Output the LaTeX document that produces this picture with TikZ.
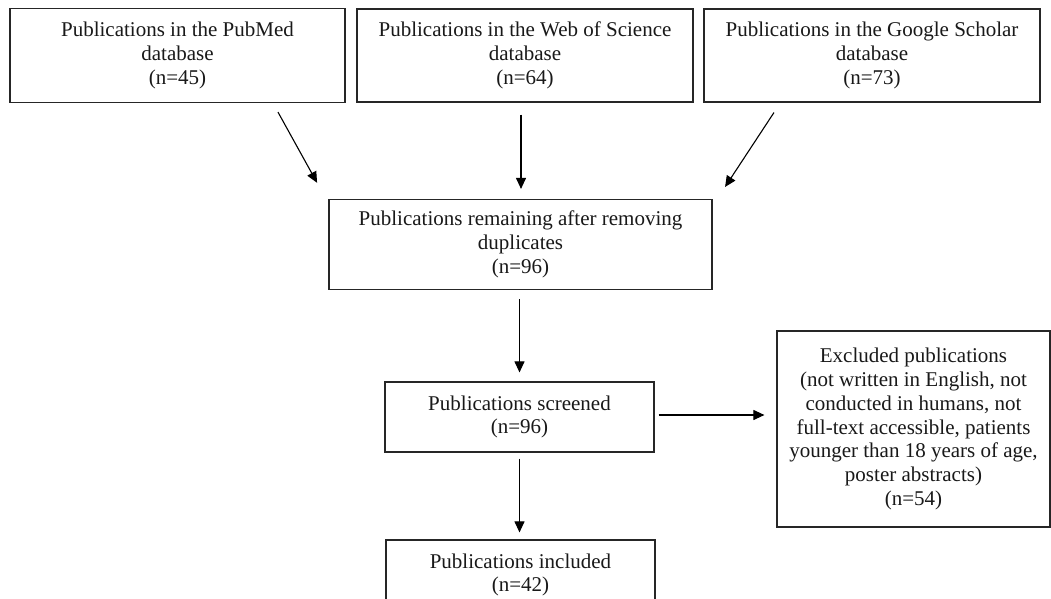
\documentclass[tikz,border=0pt]{standalone}
\usepackage{fontspec}
\setmainfont{Liberation Serif}
\usetikzlibrary{arrows.meta}
\begin{document}
\begin{tikzpicture}[x=1pt,y=-1pt,
  box/.style={draw=black!85, line width=1.2pt, align=center, inner sep=0pt,
    font=\fontsize{21}{23.8}\selectfont, text=black!90},
  arr/.style={draw=black, line width=1.1pt, -{Triangle[length=11pt,width=10pt]}}]
\useasboundingbox (0,0) rectangle (1051,599);
\clip (0,0) rectangle (1051,599);
\fill[white] (0,0) rectangle (1051,599);
\node[box, minimum width=335pt, minimum height=94pt] (b1) at (177.5,55.5)
  {Publications in the PubMed\\database\\(n=45)};
\node[box, minimum width=336pt, minimum height=93pt] (b2) at (525,55.5)
  {Publications in the Web of Science\\database\\(n=64)};
\node[box, minimum width=336pt, minimum height=93pt] (b3) at (872,55.5)
  {Publications in the Google Scholar\\database\\(n=73)};
\node[box, minimum width=383pt, minimum height=90pt] (b4) at (520.5,244.5)
  {Publications remaining after removing\\duplicates\\(n=96)};
\node[box, minimum width=269pt, minimum height=70pt] (scr) at (519.5,417)
  {Publications screened\\(n=96)};
\node[box, minimum width=269pt, minimum height=70pt] (inc) at (520.5,575)
  {Publications included\\(n=42)};
\node[box, minimum width=273pt, minimum height=196pt] (exc) at (913.5,429)
  {Excluded publications\\(not written in English, not\\conducted in humans, not\\full-text accessible, patients\\younger than 18 years of age,\\poster abstracts)\\(n=54)};
\draw[arr, shorten <=10.3pt, shorten >=18.4pt] ([xshift=95.5pt]b1.south) -- ([xshift=-194.5pt]b4.north);
\draw[arr, shorten <=12pt, shorten >=10pt] ([xshift=-4pt]b2.south) -- ([xshift=0.5pt]b4.north);
\draw[arr, shorten <=11.9pt, shorten >=14.3pt] ([xshift=-91.5pt]b3.south) -- ([xshift=196.7pt]b4.north);
\draw[arr, shorten <=9pt, shorten >=9pt] (b4.south -| scr.north) -- (scr.north);
\draw[arr, shorten <=6pt, shorten >=7pt] (scr.south) -- (scr.south |- inc.north);
\draw[arr, shorten <=4pt, shorten >=12pt] ([yshift=2pt]scr.east) -- ([yshift=2pt]scr.east -| exc.west);
\end{tikzpicture}
\end{document}
